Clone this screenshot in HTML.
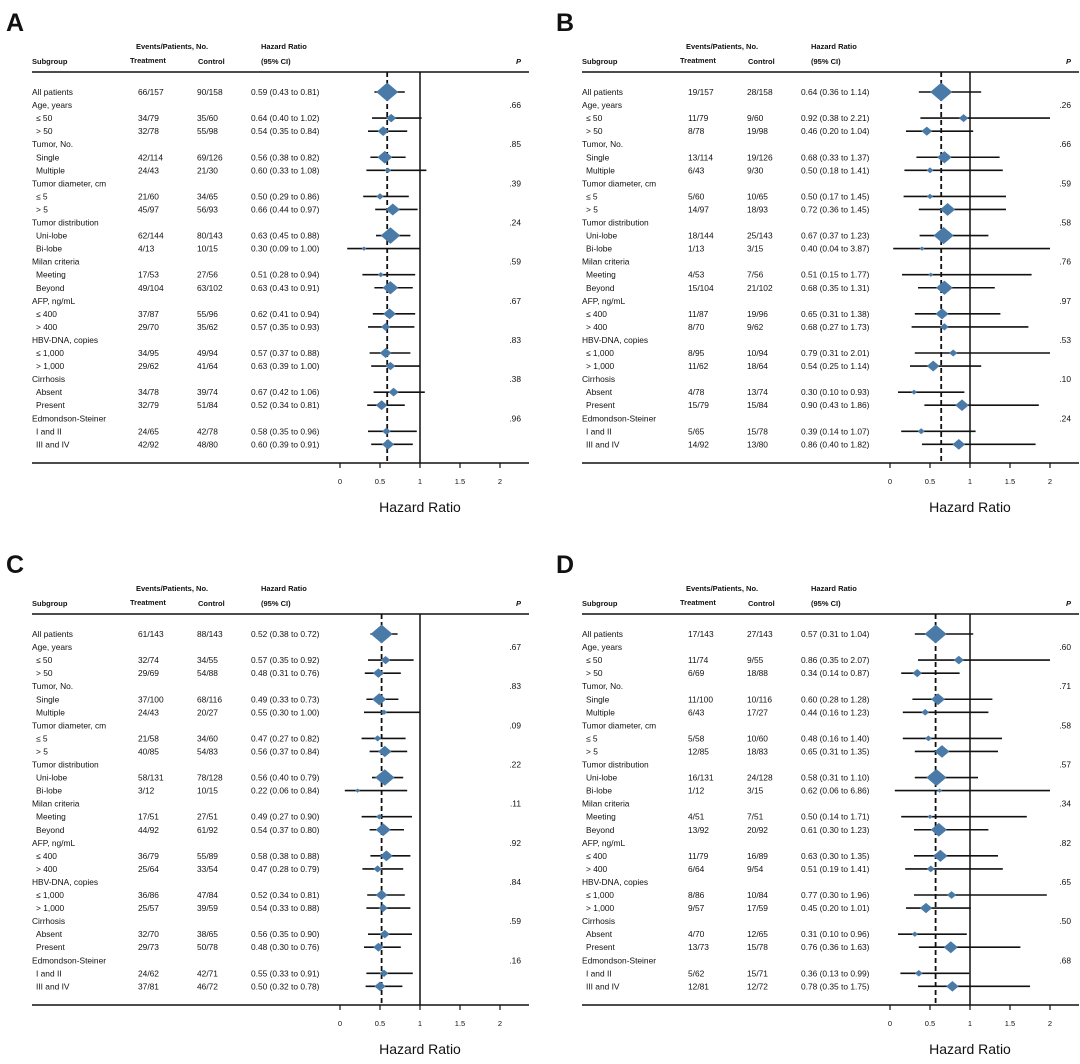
<!DOCTYPE html>
<html><head><meta charset="utf-8"><style>
html,body{margin:0;padding:0;background:#fff;}
svg{display:block;font-family:"Liberation Sans",Arial,sans-serif;}
</style></head><body>
<svg id="s" width="1080" height="1064" viewBox="0 0 1080 1064" xmlns="http://www.w3.org/2000/svg"></svg>
<script>
var P=[
{L:"A",dx:0,dy:0,all:["66/157","90/158",.59,.43,.81],g:[
["Age, years",".66",[["≤ 50","34/79","35/60",.64,.40,1.02],["> 50","32/78","55/98",.54,.35,.84]]],
["Tumor, No.",".85",[["Single","42/114","69/126",.56,.38,.82],["Multiple","24/43","21/30",.60,.33,1.08]]],
["Tumor diameter, cm",".39",[["≤ 5","21/60","34/65",.50,.29,.86],["> 5","45/97","56/93",.66,.44,.97]]],
["Tumor distribution",".24",[["Uni-lobe","62/144","80/143",.63,.45,.88],["Bi-lobe","4/13","10/15",.30,.09,1.00]]],
["Milan criteria",".59",[["Meeting","17/53","27/56",.51,.28,.94],["Beyond","49/104","63/102",.63,.43,.91]]],
["AFP, ng/mL",".67",[["≤ 400","37/87","55/96",.62,.41,.94],["> 400","29/70","35/62",.57,.35,.93]]],
["HBV-DNA, copies",".83",[["≤ 1,000","34/95","49/94",.57,.37,.88],["> 1,000","29/62","41/64",.63,.39,1.00]]],
["Cirrhosis",".38",[["Absent","34/78","39/74",.67,.42,1.06],["Present","32/79","51/84",.52,.34,.81]]],
["Edmondson-Steiner",".96",[["I and II","24/65","42/78",.58,.35,.96],["III and IV","42/92","48/80",.60,.39,.91]]]]},
{L:"B",dx:550,dy:0,all:["19/157","28/158",.64,.36,1.14],g:[
["Age, years",".26",[["≤ 50","11/79","9/60",.92,.38,2.21],["> 50","8/78","19/98",.46,.20,1.04]]],
["Tumor, No.",".66",[["Single","13/114","19/126",.68,.33,1.37],["Multiple","6/43","9/30",.50,.18,1.41]]],
["Tumor diameter, cm",".59",[["≤ 5","5/60","10/65",.50,.17,1.45],["> 5","14/97","18/93",.72,.36,1.45]]],
["Tumor distribution",".58",[["Uni-lobe","18/144","25/143",.67,.37,1.23],["Bi-lobe","1/13","3/15",.40,.04,3.87]]],
["Milan criteria",".76",[["Meeting","4/53","7/56",.51,.15,1.77],["Beyond","15/104","21/102",.68,.35,1.31]]],
["AFP, ng/mL",".97",[["≤ 400","11/87","19/96",.65,.31,1.38],["> 400","8/70","9/62",.68,.27,1.73]]],
["HBV-DNA, copies",".53",[["≤ 1,000","8/95","10/94",.79,.31,2.01],["> 1,000","11/62","18/64",.54,.25,1.14]]],
["Cirrhosis",".10",[["Absent","4/78","13/74",.30,.10,.93],["Present","15/79","15/84",.90,.43,1.86]]],
["Edmondson-Steiner",".24",[["I and II","5/65","15/78",.39,.14,1.07],["III and IV","14/92","13/80",.86,.40,1.82]]]]},
{L:"C",dx:0,dy:542,all:["61/143","88/143",.52,.38,.72],g:[
["Age, years",".67",[["≤ 50","32/74","34/55",.57,.35,.92],["> 50","29/69","54/88",.48,.31,.76]]],
["Tumor, No.",".83",[["Single","37/100","68/116",.49,.33,.73],["Multiple","24/43","20/27",.55,.30,1.00]]],
["Tumor diameter, cm",".09",[["≤ 5","21/58","34/60",.47,.27,.82],["> 5","40/85","54/83",.56,.37,.84]]],
["Tumor distribution",".22",[["Uni-lobe","58/131","78/128",.56,.40,.79],["Bi-lobe","3/12","10/15",.22,.06,.84]]],
["Milan criteria",".11",[["Meeting","17/51","27/51",.49,.27,.90],["Beyond","44/92","61/92",.54,.37,.80]]],
["AFP, ng/mL",".92",[["≤ 400","36/79","55/89",.58,.38,.88],["> 400","25/64","33/54",.47,.28,.79]]],
["HBV-DNA, copies",".84",[["≤ 1,000","36/86","47/84",.52,.34,.81],["> 1,000","25/57","39/59",.54,.33,.88]]],
["Cirrhosis",".59",[["Absent","32/70","38/65",.56,.35,.90],["Present","29/73","50/78",.48,.30,.76]]],
["Edmondson-Steiner",".16",[["I and II","24/62","42/71",.55,.33,.91],["III and IV","37/81","46/72",.50,.32,.78]]]]},
{L:"D",dx:550,dy:542,all:["17/143","27/143",.57,.31,1.04],g:[
["Age, years",".60",[["≤ 50","11/74","9/55",.86,.35,2.07],["> 50","6/69","18/88",.34,.14,.87]]],
["Tumor, No.",".71",[["Single","11/100","10/116",.60,.28,1.28],["Multiple","6/43","17/27",.44,.16,1.23]]],
["Tumor diameter, cm",".58",[["≤ 5","5/58","10/60",.48,.16,1.40],["> 5","12/85","18/83",.65,.31,1.35]]],
["Tumor distribution",".57",[["Uni-lobe","16/131","24/128",.58,.31,1.10],["Bi-lobe","1/12","3/15",.62,.06,6.86]]],
["Milan criteria",".34",[["Meeting","4/51","7/51",.50,.14,1.71],["Beyond","13/92","20/92",.61,.30,1.23]]],
["AFP, ng/mL",".82",[["≤ 400","11/79","16/89",.63,.30,1.35],["> 400","6/64","9/54",.51,.19,1.41]]],
["HBV-DNA, copies",".65",[["≤ 1,000","8/86","10/84",.77,.30,1.96],["> 1,000","9/57","17/59",.45,.20,1.01]]],
["Cirrhosis",".50",[["Absent","4/70","12/65",.31,.10,.96],["Present","13/73","15/78",.76,.36,1.63]]],
["Edmondson-Steiner",".68",[["I and II","5/62","15/71",.36,.13,.99],["III and IV","12/81","12/72",.78,.35,1.75]]]]}
];
var h='';
function T(x,y,s,o){o=o||{};h+='<text x="'+x+'" y="'+y+'" font-size="'+(o.fs||8.4)+'"'+(o.b?' font-weight="bold"':'')+(o.a?' text-anchor="'+o.a+'"':'')+(o.it?' font-style="italic"':'')+' fill="#111">'+s+'</text>';}
function Ln(x1,y1,x2,y2,w,d){h+='<line x1="'+x1+'" y1="'+y1+'" x2="'+x2+'" y2="'+y2+'" stroke="#111" stroke-width="'+w+'"'+(d?' stroke-dasharray="'+d+'"':'')+'/>';}
P.forEach(function(p){
 var X=p.dx,Y=p.dy;
 T(X+6,Y+31,p.L,{fs:25,b:1});
 T(X+136,Y+49,"Events/Patients, No.",{b:1,fs:7.5});
 T(X+261,Y+49,"Hazard Ratio",{b:1,fs:7.5});
 T(X+32,Y+64,"Subgroup",{b:1,fs:7.5});
 T(X+130,Y+63,"Treatment",{b:1,fs:7.5});
 T(X+198,Y+64,"Control",{b:1,fs:7.5});
 T(X+261,Y+64,"(95% CI)",{b:1,fs:7.5});
 T(X+521,Y+64,"P",{b:1,it:1,fs:7.5,a:"end"});
 Ln(X+32,Y+72,X+529,Y+72,1.6);
 var ax=X+340,s=80,axY=Y+463;
 var rows=[["All patients",0].concat(p.all)];
 p.g.forEach(function(g){rows.push([g[0],0,null,null,null,null,null,g[1]]);g[2].forEach(function(r){rows.push([r[0],1].concat(r.slice(1)));});});
 var La=Math.log(p.all[4]/p.all[3]);
 Ln(ax+s*p.all[2],Y+72,ax+s*p.all[2],axY,1.8,"5,3");
 Ln(ax+s,Y+72,ax+s,axY,1.5);
 rows.forEach(function(r,i){
  var y=Y+92+i*13.05;
  T(X+32+(r[1]?4:0),y+3,r[0]);
  if(r[2]){
   T(X+138,y+3,r[2]);T(X+197,y+3,r[3]);
   T(X+251,y+3,r[4].toFixed(2)+" ("+r[5].toFixed(2)+" to "+r[6].toFixed(2)+")");
   var x1=ax+s*Math.max(r[5],0),x2=ax+s*Math.min(r[6],2.0);
   Ln(x1,y,x2,y,1.6);
   var w=Math.max(2.5,11*Math.pow(La/Math.log(r[6]/r[5]),2));w=Math.min(w,12);
   var hh=w*0.85,cx=ax+s*r[4];
   h+='<polygon points="'+(cx-w)+','+y+' '+cx+','+(y-hh)+' '+(cx+w)+','+y+' '+cx+','+(y+hh)+'" fill="#4a7aa8"/>';
  } else if(r[7]){T(X+521,y+3,r[7],{a:"end"});}
 });
 Ln(X+32,axY,X+529,axY,1.6);
 [0,.5,1,1.5,2].forEach(function(t){Ln(ax+s*t,axY,ax+s*t,axY+5,1.2);T(ax+s*t,axY+21,String(t),{a:"middle",fs:7.5});});
 T(ax+s,axY+49,"Hazard Ratio",{a:"middle",fs:14});
});
document.getElementById('s').innerHTML=h;
</script>
</body></html>
